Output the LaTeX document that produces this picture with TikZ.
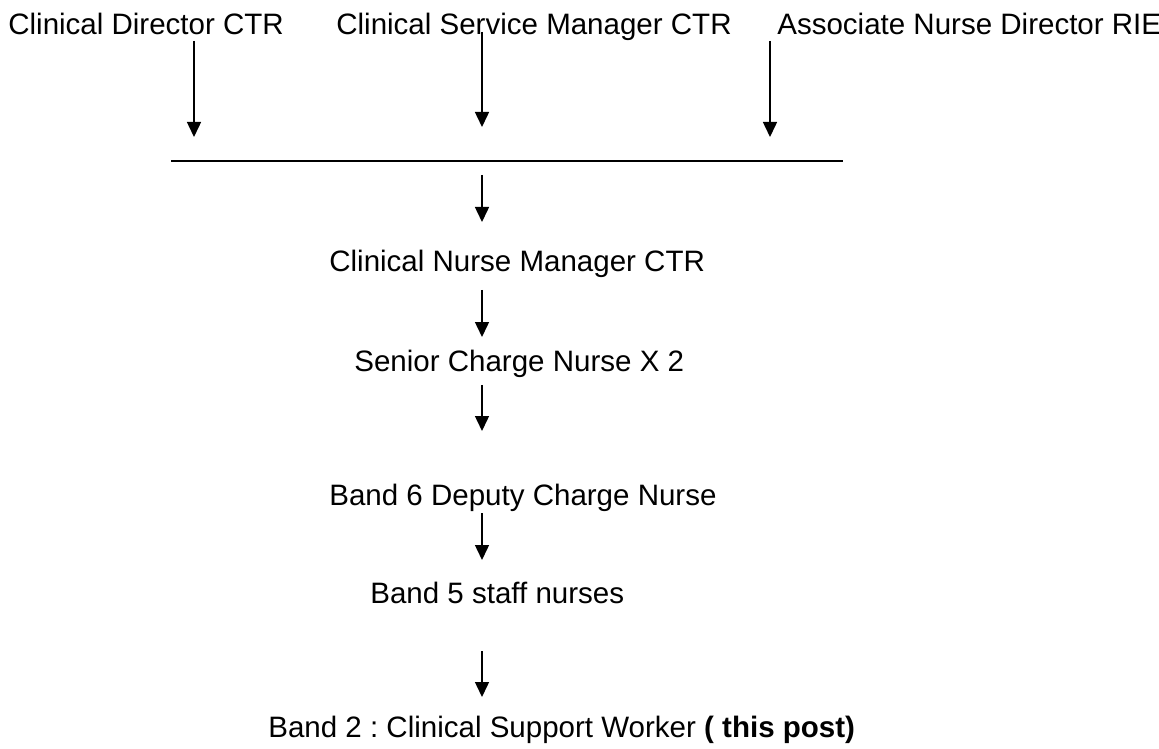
\documentclass[tikz,border=0pt]{standalone}
\usepackage{fontspec}
\setmainfont{Liberation Sans}
\usepackage{tikz}
\usetikzlibrary{arrows.meta}
\frenchspacing

\tikzset{
    post/.style={font=\fontsize{16.8}{20}\selectfont, inner sep=0pt, anchor=base west},
    link/.style={line width=0.85pt, -{Triangle[length=0.3cm, width=0.28cm]}},
    bar/.style={line width=1.1pt}
}

\begin{document}
\begin{tikzpicture}[x=0.02cm, y=-0.02cm]

    % Frame
    \useasboundingbox (0, 0) rectangle (1159, 749);

    % Top posts
    \node[post] (director) at (8, 35) {Clinical Director CTR};
    \node[post] (service) at (336, 35) {Clinical Service Manager CTR};
    \node[post] (associate) at (777, 35) {Associate Nurse Director RIE};

    % Joining bar
    \coordinate (barL) at (171, 161);
    \coordinate (barR) at (843, 161);
    \draw[bar] (barL) -- (barR);

    % Arrows into the bar
    \coordinate (dirS) at (194, 41);
    \coordinate (dirE) at (194, 137);
    \coordinate (serS) at (482, 32);
    \coordinate (serE) at (482, 127);
    \coordinate (assS) at (770, 41);
    \coordinate (assE) at (770, 137);
    \draw[link] (dirS) -- (dirE);
    \draw[link] (serS) -- (serE);
    \draw[link] (assS) -- (assE);

    % Chain of posts
    \node[post] (cnm) at (329, 272) {Clinical Nurse Manager CTR};
    \node[post] (scn) at (354, 372) {Senior Charge Nurse X 2};
    \node[post] (deputy) at (329, 505) {Band 6 Deputy Charge Nurse};
    \node[post] (staff) at (370, 603) {Band 5 staff nurses};
    \node[post] (support) at (268, 737) {Band 2 : Clinical Support Worker \textbf{( this post)}};

    % Arrows down the chain
    \coordinate (a1S) at (482, 175);
    \coordinate (a1E) at (482, 222);
    \coordinate (a2S) at (482, 290);
    \coordinate (a2E) at (482, 337);
    \coordinate (a3S) at (482, 385);
    \coordinate (a3E) at (482, 431);
    \coordinate (a4S) at (482, 513);
    \coordinate (a4E) at (482, 560);
    \coordinate (a5S) at (482, 651);
    \coordinate (a5E) at (482, 697);
    \draw[link] (a1S) -- (a1E);
    \draw[link] (a2S) -- (a2E);
    \draw[link] (a3S) -- (a3E);
    \draw[link] (a4S) -- (a4E);
    \draw[link] (a5S) -- (a5E);

\end{tikzpicture}
\end{document}
